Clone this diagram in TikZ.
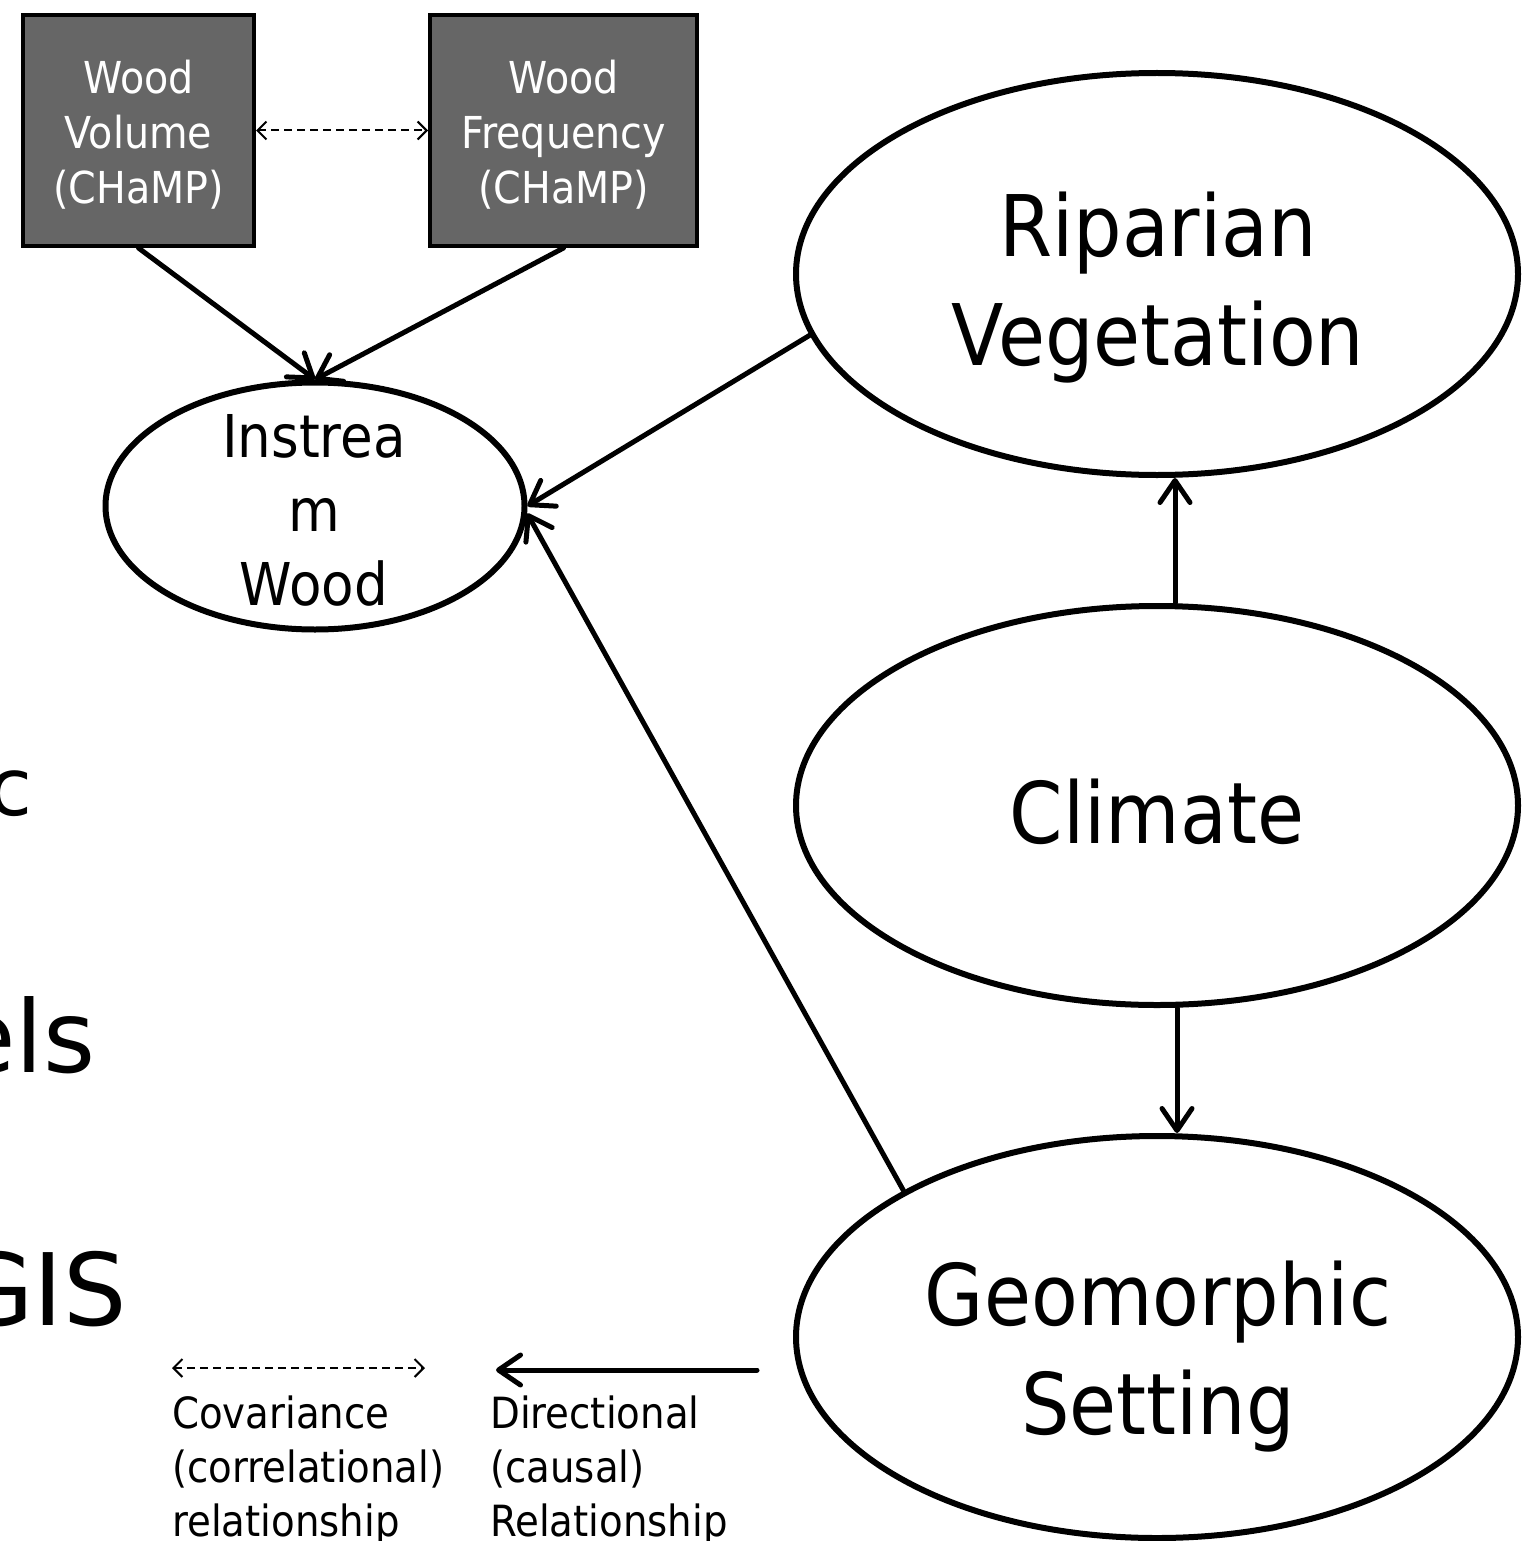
\documentclass[tikz,border=0pt]{standalone}
\usepackage{fontspec}
\setmainfont[FakeStretch=0.9]{DejaVu Sans}
\newfontfamily\slidefont{DejaVu Sans}
\usetikzlibrary{arrows.meta,shapes.geometric}
\definecolor{boxgray}{HTML}{666666}
\tikzset{
  oval/.style={draw, ellipse, line width=6pt, inner sep=0pt},
  datbox/.style={draw, fill=boxgray, line width=4pt, inner sep=0pt},
  cause/.style={line width=5pt, line cap=round,
    -{Straight Barb[length=22pt,width=30pt,line cap=round,line join=round]}},
  covar/.style={line width=2pt, dash pattern=on 8pt off 5pt,
    {Straight Barb[length=9pt,width=18pt]}-{Straight Barb[length=9pt,width=18pt]}},
  bigtxt/.style={font=\fontsize{85}{109}\selectfont, inner sep=0pt, text width=600pt, align=center, anchor=base},
  insttxt/.style={font=\fontsize{59}{74}\selectfont, inner sep=0pt, text width=380pt, align=center, anchor=base},
  boxtxt/.style={font=\fontsize{44}{55}\selectfont, text=white, inner sep=0pt, text width=260pt, align=center, anchor=base},
  legtxt/.style={font=\fontsize{43}{54}\selectfont, inner sep=0pt, text width=320pt, align=left, anchor=base west},
  frag/.style={font=\slidefont\fontsize{100}{120}\selectfont, inner sep=0pt, anchor=base east},
}
\begin{document}
\begin{tikzpicture}[x=1pt,y=-1pt]
\fill[white] (0,0) rectangle (1529,1541);
\useasboundingbox (0,0) rectangle (1529,1541);

% slide text fragments at left edge
\node[frag, font=\slidefont\fontsize{80}{96}\selectfont] (fragc) at (33,815) {c};
\node[frag] (fragels) at (96,1072) {els};
\node[frag] (fraggis) at (127,1325) {GIS};

% data boxes
\node[datbox, minimum width=231pt, minimum height=231pt] (vol) at (138.5,130.5) {};
\node[datbox, minimum width=267pt, minimum height=231pt] (freq) at (563.5,130.5) {};
\node[boxtxt] (voltxt) at (138.5,94) {Wood\\Volume\\(CHaMP)};
\node[boxtxt] (freqtxt) at (563.5,94) {Wood\\Frequency\\(CHaMP)};

% ellipses
\node[oval, minimum width=419pt, minimum height=247pt] (inst) at (315,506) {};
\node[insttxt] (insttext) at (314,457) {Instrea\\m\\Wood};

\node[oval, minimum width=722pt, minimum height=402pt] (rip) at (1157,274) {};
\node[bigtxt] (riptxt) at (1158,256) {Riparian\\Vegetation};

\node[oval, minimum width=722pt, minimum height=399pt] (clim) at (1157,805.5) {};
\node[bigtxt] (climtxt) at (1157,843) {Climate};

\node[oval, minimum width=722pt, minimum height=402pt] (geo) at (1157,1337) {};
\node[bigtxt] (geotxt) at (1158,1325) {Geomorphic\\Setting};

% connectors
\draw[covar] (vol.east) -- (freq.west);
\draw[cause] (vol.south) -- (inst.north);
\draw[cause] (freq.south) -- (inst.north);
\draw[cause] (rip.190.5) -- (inst.east);
\draw[cause] (geo.150) -- (inst.-2);
\draw[cause] ([xshift=18pt]clim.north) -- ([xshift=18pt]rip.south);
\draw[cause] ([xshift=20pt]clim.south) -- ([xshift=20pt]geo.north);

% legend
\coordinate (covL) at (172,1368);
\coordinate (covR) at (425,1368);
\draw[covar] (covL) -- (covR);
\coordinate (dirS) at (757,1370);
\coordinate (dirE) at (496,1370);
\draw[cause] (dirS) -- (dirE);
\node[legtxt] (covtxt) at (172,1428) {Covariance\\(correlational)\\relationship};
\node[legtxt] (dirtxt) at (490,1428) {Directional\\(causal)\\Relationship};
\end{tikzpicture}
\end{document}
